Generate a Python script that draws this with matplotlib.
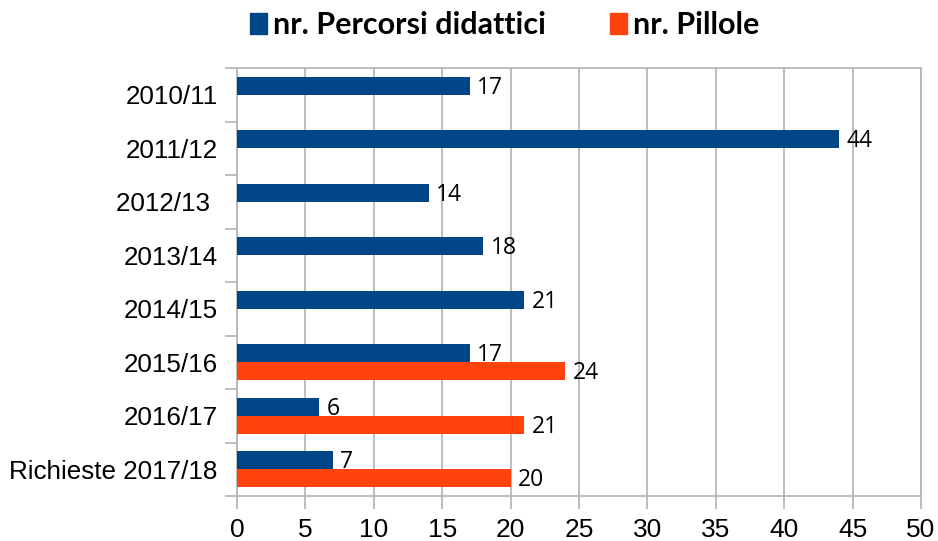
import matplotlib
matplotlib.use("Agg")
import matplotlib.pyplot as plt
from matplotlib.patches import Patch
import numpy as np

categories = ["2010/11", "2011/12", "2012/13 ", "2013/14", "2014/15",
              "2015/16", "2016/17", "Richieste 2017/18"]
percorsi = [17, 44, 14, 18, 21, 17, 6, 7]
pillole = [None, None, None, None, None, 24, 21, 20]
xticks = [0, 5, 10, 15, 20, 25, 30, 35, 40, 45, 50]

BLUE = "#004586"; ORANGE = "#ff420e"; GREY = "#b3b3b3"

fig = plt.figure(figsize=(9.38, 5.41), dpi=100)
ax = fig.add_axes([237/938, 1-496/541, (921-237)/938, (496-68)/541])

y = np.arange(len(categories))
h = 0.336
ax.barh(y - h/2, percorsi, height=h, color=BLUE, zorder=3)
pv = [v if v is not None else 0 for v in pillole]
ax.barh(y + h/2, pv, height=h, color=ORANGE, zorder=3)

lab_font = dict(fontsize=16.5, family=["Open Sans", "DejaVu Sans"], va="center", ha="left")
dy = 0.04
for yi, v in zip(y, percorsi):
    ax.text(v + 0.55, yi - h/2 + dy, str(v), **lab_font)
for yi, v in zip(y, pillole):
    if v is not None:
        ax.text(v + 0.55, yi + h/2 + dy, str(v), **lab_font)

ax.set_xlim(0, 50)
ax.set_ylim(len(categories) - 0.5, -0.5)
ax.set_xticks(xticks)
ax.set_xticklabels([str(t) for t in xticks], fontsize=19, family="Liberation Sans")
ax.set_yticks(y)
ax.set_yticklabels(categories, fontsize=18.7, family="Liberation Sans")
ax.set_yticks(np.arange(len(categories) + 1) - 0.5, minor=True)
ax.tick_params(axis="y", which="major", length=0, pad=14)
ax.tick_params(axis="y", which="minor", length=9, color=GREY, width=1.2)
ax.tick_params(axis="x", which="major", length=9, color=GREY, width=1.2, pad=7)
ax.grid(axis="x", color=GREY, linewidth=1.2, zorder=0)
for s in ax.spines.values():
    s.set_color(GREY)
    s.set_linewidth(1.2)

handles = [Patch(color=BLUE, label="nr. Percorsi didattici"),
           Patch(color=ORANGE, label="nr. Pillole")]
fig.legend(handles=handles, loc="center", bbox_to_anchor=(0.538, 1-25/541), ncol=2,
           frameon=False, handlelength=0.55, handleheight=0.7, handletextpad=0.2,
           columnspacing=2.1,
           prop=dict(family=["Lato", "DejaVu Sans"], weight="bold", size=22))

fig.savefig("out.png", dpi=100)
